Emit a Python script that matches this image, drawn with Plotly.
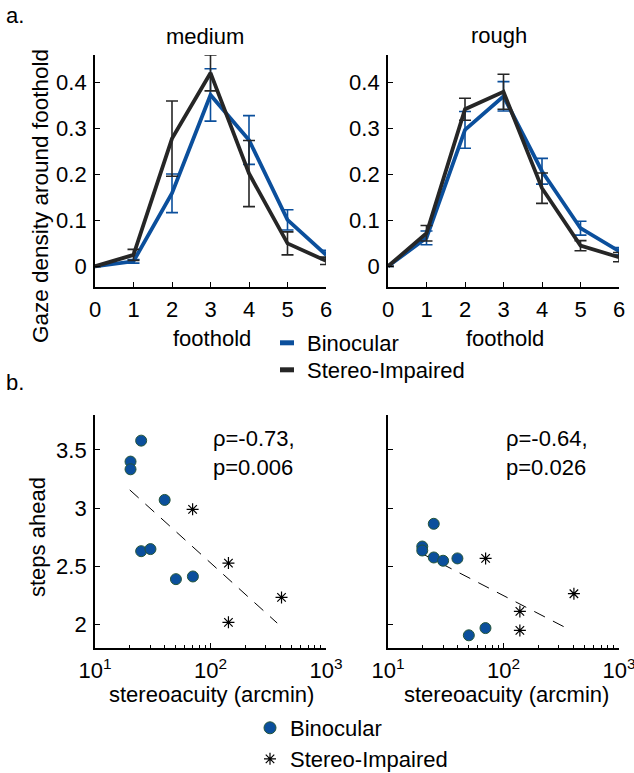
import plotly.graph_objects as go

# ---------------- data ----------------
footholds = [0, 1, 2, 3, 4, 5, 6]

med_bino = [0, 0.011, 0.159, 0.373, 0.275, 0.101, 0.025]
med_bino_err = [0, 0.004, 0.042, 0.057, 0.053, 0.022, 0.010]
med_stereo = [0, 0.025, 0.278, 0.421, 0.202, 0.050, 0.012]
med_stereo_err = [0, 0.012, 0.082, 0.039, 0.072, 0.025, 0.008]

rough_bino = [0, 0.062, 0.297, 0.370, 0.207, 0.083, 0.033]
rough_bino_err = [0, 0.015, 0.040, 0.032, 0.028, 0.015, 0.008]
rough_stereo = [0, 0.072, 0.342, 0.380, 0.170, 0.045, 0.020]
rough_stereo_err = [0, 0.017, 0.024, 0.038, 0.033, 0.011, 0.010]

# scatter panel b (stereoacuity in arcmin, steps ahead)
med_b_x = [20.3, 20.3, 25.1, 40.1, 25.1, 30.2, 50.2, 70.4]
med_b_y = [3.40, 3.334, 3.58, 3.071, 2.631, 2.649, 2.391, 2.414]
med_s_x = [70, 143, 143, 412]
med_s_y = [2.99, 2.529, 2.02, 2.234]
med_fit_x = [20, 378]
med_fit_y = [3.157, 2.014]

rough_b_x = [24.9, 19.8, 19.8, 24.9, 30.0, 39.9, 50.1, 69.8]
rough_b_y = [2.866, 2.671, 2.637, 2.577, 2.549, 2.569, 1.909, 1.971]
rough_s_x = [70, 138.6, 138.6, 407]
rough_s_y = [2.569, 2.114, 1.951, 2.266]
rough_fit_x = [19.8, 364]
rough_fit_y = [2.609, 1.963]

stats_med = "\u03c1=-0.73,<br>p=0.006"
stats_rough = "\u03c1=-0.64,<br>p=0.026"

# ---------------- style ----------------
BLUE = "#0b4f9c"
DARK = "#262626"
EDGE = "#24553a"
FONT = "Liberation Sans, Arial, Helvetica, sans-serif"
FS = 22
W, H = 634, 773


def px_x(p):
    return p / W


def px_y(p):
    return 1 - p / H


fig = go.Figure()


def line_trace(y, err, color, xa, ya):
    return go.Scatter(
        x=footholds, y=y, mode="lines",
        line=dict(color=color, width=3.8),
        error_y=dict(type="data", array=err, color=color, thickness=1.6, width=6),
        xaxis=xa, yaxis=ya, showlegend=False, cliponaxis=False,
    )


fig.add_trace(line_trace(med_bino, med_bino_err, BLUE, "x", "y"))
fig.add_trace(line_trace(med_stereo, med_stereo_err, DARK, "x", "y"))
fig.add_trace(line_trace(rough_bino, rough_bino_err, BLUE, "x2", "y2"))
fig.add_trace(line_trace(rough_stereo, rough_stereo_err, DARK, "x2", "y2"))


def scatter_panel(bx, by, sx, sy, fx, fy, xa, ya):
    fig.add_trace(go.Scatter(x=fx, y=fy, mode="lines",
                             line=dict(color="black", width=1, dash="12px,9px"),
                             xaxis=xa, yaxis=ya, showlegend=False))
    fig.add_trace(go.Scatter(x=bx, y=by, mode="markers",
                             marker=dict(color=BLUE, size=11, line=dict(color=EDGE, width=1)),
                             xaxis=xa, yaxis=ya, showlegend=False, cliponaxis=False))
    fig.add_trace(go.Scatter(x=sx, y=sy, mode="markers",
                             marker=dict(symbol="asterisk-open", color="black", size=10,
                                         line=dict(color="black", width=1.2)),
                             xaxis=xa, yaxis=ya, showlegend=False, cliponaxis=False))


scatter_panel(med_b_x, med_b_y, med_s_x, med_s_y, med_fit_x, med_fit_y, "x3", "y3")
scatter_panel(rough_b_x, rough_b_y, rough_s_x, rough_s_y, rough_fit_x, rough_fit_y, "x4", "y4")

# legend-only entries
fig.add_trace(go.Scatter(x=[None], y=[None], mode="markers", name="Binocular",
                         marker=dict(symbol="line-ew-open", size=10, color=BLUE,
                                     line=dict(color=BLUE, width=5)),
                         legend="legend", showlegend=True))
fig.add_trace(go.Scatter(x=[None], y=[None], mode="markers", name="Stereo-Impaired",
                         marker=dict(symbol="line-ew-open", size=10, color=DARK,
                                     line=dict(color=DARK, width=5)),
                         legend="legend2", showlegend=True))
fig.add_trace(go.Scatter(x=[None], y=[None], mode="markers", name="Binocular",
                         marker=dict(color=BLUE, size=12, line=dict(color=EDGE, width=1)),
                         legend="legend3", showlegend=True))
fig.add_trace(go.Scatter(x=[None], y=[None], mode="markers", name="Stereo-Impaired",
                         marker=dict(symbol="asterisk-open", size=10, color="black",
                                     line=dict(color="black", width=1.2)),
                         legend="legend4", showlegend=True))

# ---------------- axes ----------------
TOP_Y = [px_y(287), px_y(55)]
BOT_Y = [px_y(648), px_y(415)]
LEFT_X = [px_x(95), px_x(326)]
RIGHT_X = [px_x(388), px_x(619)]

common = dict(showline=True, linecolor="black", linewidth=1.8, ticks="inside",
              tickcolor="black", tickwidth=1.2, ticklen=5, showgrid=False, zeroline=False,
              tickfont=dict(family=FONT, size=FS, color="black"), mirror=False,
              ticklabeloverflow="allow")

xtop = dict(common, range=[0, 6], tickvals=footholds, ticklabelstandoff=2)
ytop = dict(common, range=[-0.045, 0.46], tickvals=[0, 0.1, 0.2, 0.3, 0.4],
            ticktext=["0", "0.1", "0.2", "0.3", "0.4"], ticklabelstandoff=2)

log_minor = [20, 30, 40, 50, 60, 70, 80, 90, 200, 300, 400, 500, 600, 700, 800, 900]
xbot = dict(common, type="log", range=[1, 3], tickvals=[10, 100, 1000],
            ticktext=["10<sup>1</sup>", "10<sup>2</sup>", "10<sup>3</sup>"],
            ticklabelstandoff=2,
            minor=dict(tickvals=log_minor, ticks="inside", ticklen=3, tickcolor="black",
                       tickwidth=1, showgrid=False))
ybot = dict(common, range=[1.8, 3.8], tickvals=[2, 2.5, 3, 3.5],
            ticktext=["2", "2.5", "3", "3.5"], ticklabelstandoff=2)

fig.update_layout(
    width=W, height=H,
    margin=dict(l=0, r=0, t=0, b=0, autoexpand=False),
    paper_bgcolor="white", plot_bgcolor="white",
    font=dict(family=FONT, size=FS, color="black"),
    xaxis=dict(xtop, domain=LEFT_X, anchor="y"),
    yaxis=dict(ytop, domain=TOP_Y, anchor="x"),
    xaxis2=dict(xtop, domain=RIGHT_X, anchor="y2"),
    yaxis2=dict(ytop, domain=TOP_Y, anchor="x2"),
    xaxis3=dict(xbot, domain=LEFT_X, anchor="y3"),
    yaxis3=dict(ybot, domain=BOT_Y, anchor="x3"),
    xaxis4=dict(xbot, domain=RIGHT_X, anchor="y4"),
    yaxis4=dict(ybot, domain=BOT_Y, anchor="x4", showticklabels=False),
    showlegend=True,
)

leg_common = dict(bgcolor="rgba(0,0,0,0)", borderwidth=0, xanchor="left", yanchor="middle",
                  font=dict(family=FONT, size=FS, color="black"))
fig.update_layout(
    legend=dict(leg_common, x=px_x(267), y=px_y(343)),
    legend2=dict(leg_common, x=px_x(267), y=px_y(370)),
    legend3=dict(leg_common, x=px_x(250), y=px_y(728)),
    legend4=dict(leg_common, x=px_x(250), y=px_y(759)),
)

# ---------------- text ----------------
def text(t, x, y, size=FS, xanchor="center", yanchor="middle", angle=0, align="center"):
    fig.add_annotation(text=t, x=x, y=y, xref="paper", yref="paper", showarrow=False,
                       xanchor=xanchor, yanchor=yanchor, textangle=angle, align=align,
                       font=dict(family=FONT, size=size, color="black"))


text("a.", px_x(4), px_y(15), xanchor="left")
text("b.", px_x(4), px_y(383), xanchor="left")
text("medium", px_x(205), px_y(37))
text("rough", px_x(499), px_y(36))
text("Gaze density around foothold", px_x(40), px_y(196), size=22.5, angle=-90)
text("foothold", px_x(212), px_y(338))
text("foothold", px_x(505), px_y(338))
text("steps ahead", px_x(37), px_y(537), angle=-90)
text("stereoacuity (arcmin)", px_x(212), px_y(694))
text("stereoacuity (arcmin)", px_x(506), px_y(694))
text(stats_med, px_x(211), px_y(453), xanchor="left", align="left")
text(stats_rough, px_x(504), px_y(453), xanchor="left", align="left")

fig.write_html("out.html", config={"displayModeBar": False},
               post_script="document.body.style.margin='0';")
